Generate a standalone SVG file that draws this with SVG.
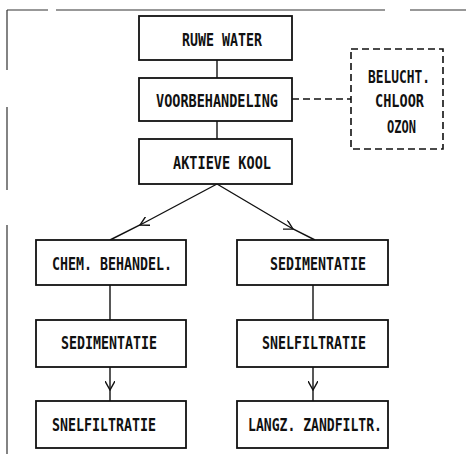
<svg xmlns="http://www.w3.org/2000/svg" width="466" height="454" viewBox="0 0 466 454">
<style>
.box{fill:#fff;stroke:#111;stroke-width:1.8}
.dbox{fill:#fff;stroke:#111;stroke-width:1.6;stroke-dasharray:7,4}
.t{font-family:"DejaVu Sans Mono","Liberation Mono",monospace;font-size:17px;font-weight:bold;fill:#111}
.ln{fill:none;stroke:#111;stroke-width:1.4}
.dl{fill:none;stroke:#111;stroke-width:1.4;stroke-dasharray:7,4}
.fr{fill:none;stroke:#333;stroke-width:1.2}
</style>
<defs>
<marker id="ah" viewBox="0 0 10 10" refX="9" refY="5" markerWidth="10" markerHeight="10" markerUnits="userSpaceOnUse" orient="auto">
<path d="M0,0 L9,5 L0,10" fill="none" stroke="#111" stroke-width="1.4"/>
</marker>
</defs>
<g id="frame">
<path class="fr" d="M7,10 H48 M56,10 H385 M410,10 H466"/>
<path class="fr" d="M7,10 V70 M7,107 V190 M7,225 V454"/>
</g>
<g id="connectors">
<path class="ln" d="M217,60 V78"/>
<path class="ln" d="M217,121 V139"/>
<path class="dl" d="M292,99 H351"/>
<path class="ln" d="M217,184 L140,225 L110,240" marker-mid="url(#ah)"/>
<path class="ln" d="M217,184 L293,229 L315,240" marker-mid="url(#ah)"/>
<path class="ln" d="M110,285 V320"/>
<path class="ln" d="M313,285 V320"/>
<path class="ln" d="M110,367 L110,390 L110,401" marker-mid="url(#ah)"/>
<path class="ln" d="M313,367 L313,390 L313,401" marker-mid="url(#ah)"/>
</g>
<g id="ruwe">
<rect class="box" x="139" y="16" width="153" height="44"/>
<text class="t" x="182" y="45.5" textLength="80" lengthAdjust="spacingAndGlyphs">RUWE WATER</text>
</g>
<g id="voorbehandeling">
<rect class="box" x="139" y="78" width="153" height="43"/>
<text class="t" x="156" y="107" textLength="122" lengthAdjust="spacingAndGlyphs">VOORBEHANDELING</text>
</g>
<g id="beluchting">
<rect class="dbox" x="351" y="49" width="92" height="100"/>
<text class="t" x="368" y="83" textLength="62" lengthAdjust="spacingAndGlyphs">BELUCHT.</text>
<text class="t" x="375" y="107" textLength="49" lengthAdjust="spacingAndGlyphs">CHLOOR</text>
<text class="t" x="387" y="133" textLength="29" lengthAdjust="spacingAndGlyphs">OZON</text>
</g>
<g id="aktieve">
<rect class="box" x="139" y="139" width="153" height="45"/>
<text class="t" x="173" y="169" textLength="98" lengthAdjust="spacingAndGlyphs">AKTIEVE KOOL</text>
</g>
<g id="chem">
<rect class="box" x="36" y="240" width="150" height="45"/>
<text class="t" x="52" y="270" textLength="120" lengthAdjust="spacingAndGlyphs">CHEM. BEHANDEL.</text>
</g>
<g id="sed-r">
<rect class="box" x="237" y="240" width="151" height="45"/>
<text class="t" x="270" y="270" textLength="96" lengthAdjust="spacingAndGlyphs">SEDIMENTATIE</text>
</g>
<g id="sed-l">
<rect class="box" x="36" y="320" width="150" height="47"/>
<text class="t" x="61" y="349" textLength="96" lengthAdjust="spacingAndGlyphs">SEDIMENTATIE</text>
</g>
<g id="snel-r">
<rect class="box" x="237" y="320" width="151" height="47"/>
<text class="t" x="262" y="349" textLength="104" lengthAdjust="spacingAndGlyphs">SNELFILTRATIE</text>
</g>
<g id="snel-l">
<rect class="box" x="36" y="401" width="150" height="47"/>
<text class="t" x="52" y="431" textLength="104" lengthAdjust="spacingAndGlyphs">SNELFILTRATIE</text>
</g>
<g id="langz">
<rect class="box" x="237" y="401" width="151" height="47"/>
<text class="t" x="248" y="431" textLength="134" lengthAdjust="spacingAndGlyphs">LANGZ. ZANDFILTR.</text>
</g>
</svg>
